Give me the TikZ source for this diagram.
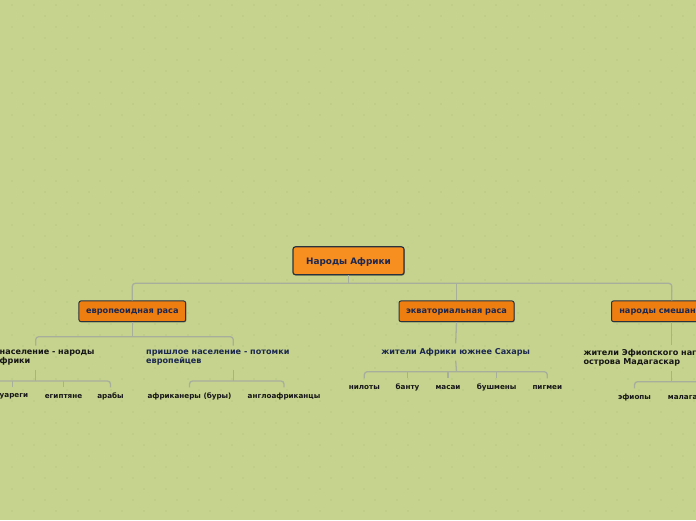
\documentclass[tikz,border=0pt]{standalone}
\usepackage{fontspec}
\setmainfont{DejaVu Sans}
\usetikzlibrary{shadows,calc}
\definecolor{bg}{RGB}{197,211,142}
\definecolor{dotc}{RGB}{184,199,130}
\definecolor{rootfill}{RGB}{247,143,32}
\definecolor{catfill}{RGB}{239,126,16}
\definecolor{boxborder}{RGB}{42,50,62}
\definecolor{navy}{RGB}{28,40,80}
\definecolor{darktext}{RGB}{22,22,22}
\definecolor{linec}{RGB}{168,174,156}
\begin{document}
\begin{tikzpicture}[x=1pt,y=-1pt,
  rootbox/.style={draw=boxborder, line width=1.2pt, fill=rootfill, rounded corners=2.5pt,
    minimum width=111pt, minimum height=28pt, inner sep=0pt, text=navy, text depth=0pt,
    font=\bfseries\fontsize{8.9}{10}\selectfont,
    general shadow={fill=black, opacity=0.25, shadow xshift=0.8pt, shadow yshift=-0.8pt}},
  catbox/.style={draw=boxborder, line width=1pt, fill=catfill, rounded corners=2pt,
    minimum height=20.7pt, inner sep=0pt, text=navy, text depth=0pt,
    font=\bfseries\fontsize{8.2}{10}\selectfont,
    general shadow={fill=black, opacity=0.25, shadow xshift=0.8pt, shadow yshift=-0.8pt}},
  childtext/.style={inner xsep=0pt, inner ysep=4.5pt, align=left,
    font=\bfseries\fontsize{8.1}{8.8}\selectfont},
  leaf/.style={inner xsep=0pt, inner ysep=0pt, minimum height=18pt, text=darktext,
    font=\bfseries\fontsize{7.2}{8}\selectfont},
  conn/.style={draw=linec, line width=1.3pt},
  rc/.style={rounded corners=3pt}]
\useasboundingbox (0,0) rectangle (696,520);
\fill[bg] (0,0) rectangle (696,520);
\foreach \j in {0,...,47}{
  \pgfmathsetmacro{\off}{mod(\j,2)*11}
  \foreach \i in {0,...,32}{
    \fill[dotc] (12+22*\i+\off,5+11*\j) circle (0.9pt);
  }
}
% root and categories
\node[rootbox] (root) at (348.5,260.8) {Народы Африки};
\node[catbox, minimum width=106.7pt] (eur) at (132.3,311.3) {европеоидная раса};
\node[catbox, minimum width=115pt] (equ) at (456.5,311.3) {экваториальная раса};
\node[catbox, text width=105pt, inner xsep=7.8pt, align=left] (mix) at (671.8,311.3) {народы смешанны};
\coordinate (h1) at (348.5,283.3);
\draw[conn] (root.south) -- (h1);
\draw[conn, rc] (eur.north) |- (h1) -| (mix.north);
\draw[conn] (equ.north) -- (equ.north |- h1);
% second level texts
\node[childtext, text=darktext, anchor=north west] (nat) at (-0.5,345.5) {население - народы\\фрики};
\node[childtext, text=navy, anchor=north west] (imm) at (146,345.5) {пришлое население - потомки\\европейцев};
\node[childtext, text=navy] (sub) at (455.7,352) {жители Африки южнее Сахары};
\node[childtext, text=darktext, anchor=north west] (eth) at (583.3,345) {жители Эфиопского наго\\острова Мадагаскар};
\coordinate (natx) at (35.7,0);
\coordinate (immx) at (233.3,0);
\coordinate (ethx) at (671.8,0);
\coordinate (h2) at (132.3,336.7);
\draw[conn] (eur.south) -- (h2);
\draw[conn, rc] (nat.north -| natx) |- (h2) -| (imm.north -| immx);
\draw[conn] (equ.south) -- (sub.north);
\draw[conn] (mix.south) -- (eth.north -| ethx);
% leaves: left
\node[leaf, anchor=west] (tu) at (-0.5,396.5) {уареги};
\node[leaf] (eg) at (63.5,396.5) {египтяне};
\node[leaf] (ar) at (110.5,396.5) {арабы};
\coordinate (tux) at (12.3,0);
\coordinate (hl) at (-5,381);
\draw[conn] (nat.south -| natx) -- (natx |- hl);
\draw[conn, rc] (hl) -| (ar.north);
\draw[conn] (tux |- hl) -- (tu.north -| tux);
\draw[conn] (eg.north |- hl) -- (eg.north);
\node[leaf] (afr) at (189.5,396.5) {африканеры (буры)};
\node[leaf] (ang) at (284,396.5) {англоафриканцы};
\coordinate (hi) at (233.3,381);
\draw[conn] (imm.south -| immx) -- (hi);
\draw[conn, rc] (afr.north) |- (hi) -| (ang.north);
% leaves: equatorial
\node[leaf] (nil) at (364.3,387.5) {нилоты};
\node[leaf] (ban) at (407.5,387.5) {банту};
\node[leaf] (mas) at (448,387.5) {масаи};
\node[leaf] (bus) at (496.6,387.5) {бушмены};
\node[leaf] (pig) at (547.3,387.5) {пигмеи};
\coordinate (hq) at (456.5,371.7);
\draw[conn] (sub.south) -- (hq);
\draw[conn, rc] (nil.north) |- (hq) -| (pig.north);
\draw[conn] (ban.north |- hq) -- (ban.north);
\draw[conn] (mas.north |- hq) -- (mas.north);
\draw[conn] (bus.north |- hq) -- (bus.north);
% leaves: mixed
\node[leaf] (efi) at (634.5,397.5) {эфиопы};
\node[leaf, anchor=west] (mal) at (667.7,397.5) {малага};
\coordinate (hm) at (702,381.7);
\draw[conn] (eth.south -| ethx) -- (ethx |- hm);
\draw[conn, rc] (efi.north) |- (hm);
\end{tikzpicture}
\end{document}
